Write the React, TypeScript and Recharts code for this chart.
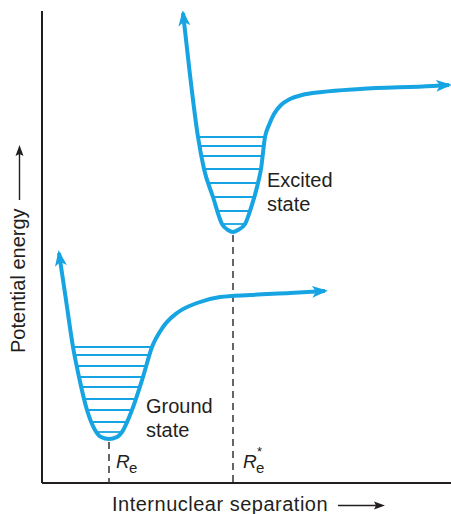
import { ComposedChart, Line, ReferenceLine, XAxis, YAxis } from "recharts";

// internuclear separation (r) and potential energy (e), arbitrary units
const groundR = [17, 24, 31, 37, 45, 53, 59, 67, 75, 80, 90, 101, 110, 121, 135, 155, 178, 208, 248, 283];
const groundE = [230, 183, 136, 106, 73, 53, 46, 44, 46, 51, 73, 106, 136, 156, 170, 180, 186, 188, 190, 192];

const excitedR = [141, 148, 156, 162, 171, 180, 186, 191, 196, 203, 208, 216, 219, 223, 227, 232, 239, 248, 260, 280, 318, 391, 407];
const excitedE = [470, 408, 346, 314, 286, 259, 253, 251, 253, 259, 272, 300, 314, 346, 358, 369, 378, 384, 388, 391, 394, 397, 398];

// vibrational levels
const groundLevels = [136, 128, 117, 106, 96, 84, 73, 61, 51];
const excitedLevels = [346, 337, 327, 314, 300, 286, 272, 259];

const BLUE = "#17a4e2";
const INK = "#231f20";
const FONT = "'Liberation Sans', Arial, Helvetica, sans-serif";

const toPoints = (rs: number[], es: number[]) => rs.map((r, i) => ({ r, e: es[i] }));

// where a level crosses the two walls of a well (linear between samples)
function wallsAt(rs: number[], es: number[], level: number) {
  const minIdx = es.indexOf(Math.min(...es));
  let left = rs[0];
  let right = rs[rs.length - 1];
  for (let i = 0; i < minIdx; i++) {
    if (es[i] >= level && es[i + 1] <= level) {
      const t = (es[i] - level) / (es[i] - es[i + 1]);
      left = rs[i] + t * (rs[i + 1] - rs[i]);
      break;
    }
  }
  for (let i = minIdx; i < rs.length - 1; i++) {
    if (es[i] <= level && es[i + 1] >= level) {
      const t = (level - es[i]) / (es[i + 1] - es[i]);
      right = rs[i] + t * (rs[i + 1] - rs[i]);
      break;
    }
  }
  return [left, right];
}

function minimum(rs: number[], es: number[]) {
  const i = es.indexOf(Math.min(...es));
  return { r: rs[i], e: es[i] };
}

export default function App() {
  const ground = toPoints(groundR, groundE);
  const excited = toPoints(excitedR, excitedE);
  const gMin = minimum(groundR, groundE);
  const eMin = minimum(excitedR, excitedE);

  return (
    <div style={{ position: "absolute", left: 0, top: 0, width: 451, height: 514, background: "#fff" }}>
      <svg width={0} height={0} style={{ position: "absolute" }}>
        <defs>
          <marker
            id="arrow"
            markerUnits="userSpaceOnUse"
            markerWidth={16}
            markerHeight={12}
            refX={13}
            refY={6}
            orient="auto-start-reverse"
          >
            <path d="M0,0 L16,6 L0,12 L4,6 Z" fill={BLUE} />
          </marker>
        </defs>
      </svg>

      <ComposedChart width={451} height={514} margin={{ top: 11, right: 0, bottom: 31, left: 42 }}>
        <XAxis type="number" dataKey="r" domain={[0, 409]} allowDataOverflow hide />
        <YAxis type="number" dataKey="e" domain={[0, 472]} allowDataOverflow hide />

        {/* axes */}
        <ReferenceLine segment={[{ x: 0, y: 0 }, { x: 0, y: 472 }]} stroke={INK} strokeWidth={2} />
        <ReferenceLine segment={[{ x: 0, y: 0 }, { x: 409, y: 0 }]} stroke={INK} strokeWidth={2} />

        {groundLevels.map((lv) => {
          const [a, b] = wallsAt(groundR, groundE, lv);
          return (
            <ReferenceLine
              key={`g${lv}`}
              segment={[{ x: a, y: lv }, { x: b, y: lv }]}
              stroke={BLUE}
              strokeWidth={1.8}
            />
          );
        })}
        {excitedLevels.map((lv) => {
          const [a, b] = wallsAt(excitedR, excitedE, lv);
          return (
            <ReferenceLine
              key={`e${lv}`}
              segment={[{ x: a, y: lv }, { x: b, y: lv }]}
              stroke={BLUE}
              strokeWidth={1.8}
            />
          );
        })}

        <ReferenceLine
          segment={[{ x: gMin.r, y: gMin.e - 3 }, { x: gMin.r, y: 0 }]}
          stroke="#333"
          strokeWidth={1.5}
          strokeDasharray="7 5"
        />
        <ReferenceLine
          segment={[{ x: eMin.r, y: eMin.e - 3 }, { x: eMin.r, y: 0 }]}
          stroke="#333"
          strokeWidth={1.5}
          strokeDasharray="7 5"
        />

        <Line
          data={ground}
          dataKey="e"
          type="monotone"
          stroke={BLUE}
          strokeWidth={4}
          dot={false}
          activeDot={false}
          isAnimationActive={false}
          markerStart="url(#arrow)"
          markerEnd="url(#arrow)"
        />
        <Line
          data={excited}
          dataKey="e"
          type="monotone"
          stroke={BLUE}
          strokeWidth={4}
          dot={false}
          activeDot={false}
          isAnimationActive={false}
          markerStart="url(#arrow)"
          markerEnd="url(#arrow)"
        />
      </ComposedChart>

      <svg
        width={451}
        height={514}
        style={{ position: "absolute", left: 0, top: 0, pointerEvents: "none" }}
        fontFamily={FONT}
        fill={INK}
      >
        <text x={146} y={413} fontSize={20}>Ground</text>
        <text x={146} y={437} fontSize={20}>state</text>
        <text x={267} y={187} fontSize={20}>Excited</text>
        <text x={267} y={211} fontSize={20}>state</text>

        <text x={116} y={468} fontSize={19} fontStyle="italic">R</text>
        <text x={129} y={473} fontSize={15}>e</text>
        <text x={243} y={468} fontSize={19} fontStyle="italic">R</text>
        <text x={256} y={473} fontSize={15}>e</text>
        <text x={257} y={456} fontSize={13}>*</text>

        <text x={112} y={511} fontSize={20} letterSpacing={0.5}>Internuclear separation</text>
        <line x1={338} y1={505.5} x2={377} y2={505.5} stroke={INK} strokeWidth={1.4} />
        <path d="M385,505.5 L374,501.5 L376,505.5 L374,509.5 Z" fill={INK} />

        <text x={25} y={353} fontSize={20} transform="rotate(-90 25 353)">Potential energy</text>
        <line x1={19.5} y1={200} x2={19.5} y2={153} stroke={INK} strokeWidth={1.4} />
        <path d="M19.5,145 L15.5,156 L19.5,154 L23.5,156 Z" fill={INK} />
      </svg>
    </div>
  );
}
